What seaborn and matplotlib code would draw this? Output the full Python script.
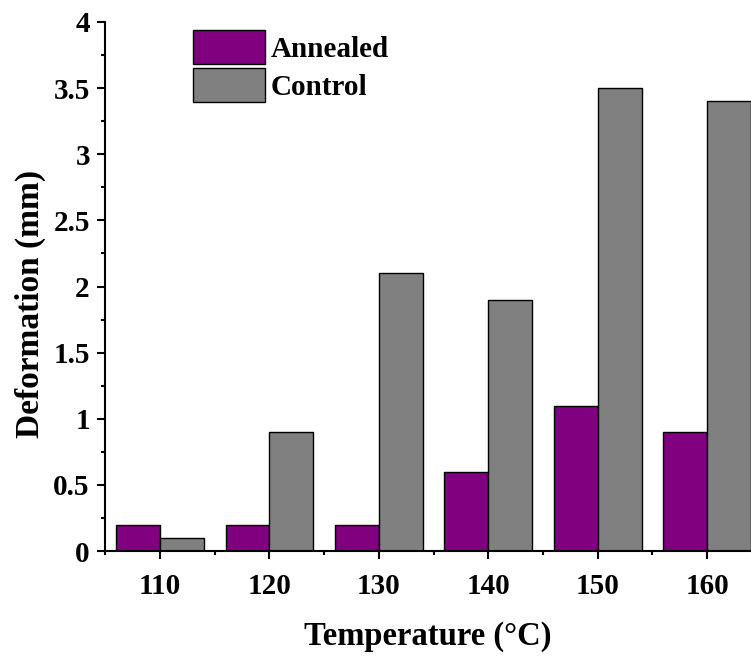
import matplotlib
matplotlib.use("Agg")
import matplotlib.pyplot as plt
import seaborn as sns
import pandas as pd
from matplotlib.ticker import MultipleLocator, FixedLocator, FuncFormatter

temperatures = ["110", "120", "130", "140", "150", "160"]
annealed = [0.2, 0.2, 0.2, 0.6, 1.1, 0.9]
control = [0.1, 0.9, 2.1, 1.9, 3.5, 3.4]
series_names = ["Annealed", "Control"]
colors = ["#800080", "#808080"]

df = pd.DataFrame({
    "Temperature": temperatures * 2,
    "Deformation": annealed + control,
    "Series": [series_names[0]] * len(temperatures) + [series_names[1]] * len(temperatures),
})

sns.set_style("ticks")
plt.rcParams["font.family"] = ["Liberation Serif", "DejaVu Serif"]
plt.rcParams["font.weight"] = "bold"
plt.rcParams["text.color"] = "black"
plt.rcParams["axes.labelcolor"] = "black"
plt.rcParams["xtick.color"] = "black"
plt.rcParams["ytick.color"] = "black"

fig = plt.figure(figsize=(7.51, 6.56), dpi=100)
ax = fig.add_axes([0.14, 0.16, 0.86, 0.8065])

sns.barplot(data=df, x="Temperature", y="Deformation", hue="Series",
            palette=colors, edgecolor="black", linewidth=1.0,
            width=0.8, ax=ax, saturation=1)

ax.set_xlim(-0.5, 5.4)
ax.set_ylim(0, 4)
ax.yaxis.set_major_locator(MultipleLocator(0.5))
ax.yaxis.set_minor_locator(MultipleLocator(0.25))
ax.yaxis.set_major_formatter(FuncFormatter(lambda v, p: f"{v:g}"))
ax.xaxis.set_minor_locator(FixedLocator([i + 0.5 for i in range(-1, 6)]))

for s in ["top", "right"]:
    ax.spines[s].set_visible(False)
for s in ["left", "bottom"]:
    ax.spines[s].set_linewidth(1.5)
    ax.spines[s].set_color("black")

ax.tick_params(axis="both", which="major", direction="out", length=6, width=1.5,
               labelsize=21, colors="black")
ax.tick_params(axis="both", which="minor", direction="out", length=3, width=1.5)
ax.tick_params(axis="x", which="major", pad=10)
ax.tick_params(axis="y", which="major", pad=5)
for lab in ax.get_xticklabels() + ax.get_yticklabels():
    lab.set_fontweight("bold")

ax.set_xlabel("Temperature (°C)", fontsize=23.5, fontweight="bold", labelpad=15)
ax.set_ylabel("Deformation (mm)", fontsize=24, fontweight="bold")
ax.yaxis.set_label_coords(-0.092, 0.467)

leg = ax.legend(loc="upper left", bbox_to_anchor=(0.136, 0.985), frameon=False,
                prop={"size": 21, "weight": "bold"}, handlelength=2.48,
                handleheight=1.42, labelspacing=0.14, handletextpad=0.17,
                borderpad=0, borderaxespad=0)

fig.savefig("out.png", dpi=100)
